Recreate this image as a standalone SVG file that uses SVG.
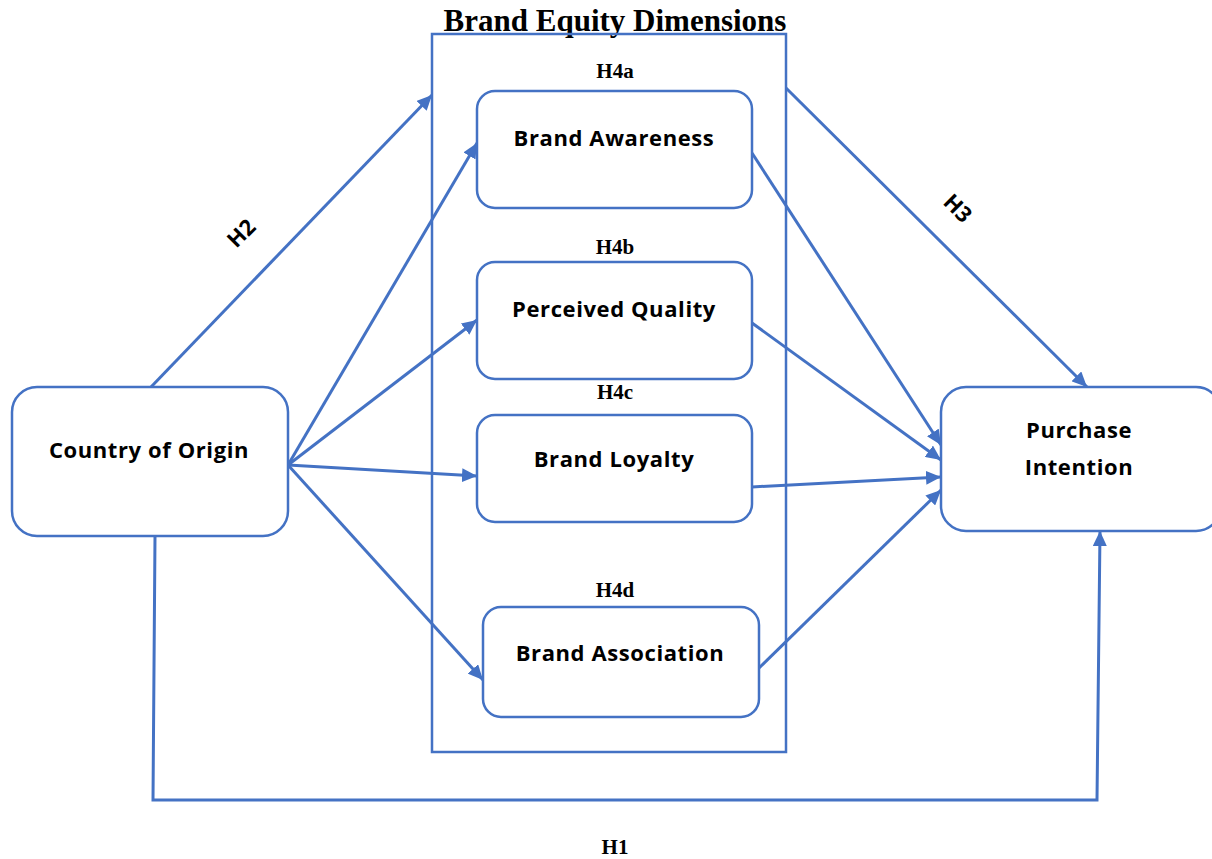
<svg xmlns="http://www.w3.org/2000/svg" width="1212" height="859" viewBox="0 0 1212 859">
<style>
.box{fill:#fff;stroke:#4472C4;stroke-width:2.5}
.frame{fill:none;stroke:#4472C4;stroke-width:2.5}
.lbl{font-family:"Open Sans",Lato,sans-serif;font-weight:bold;font-size:22px;letter-spacing:0.6px;fill:#000;text-anchor:middle}
.h{font-family:"Liberation Serif",serif;font-weight:bold;font-size:21px;fill:#000;text-anchor:middle}
.hs{font-family:"Open Sans",Lato,sans-serif;font-weight:bold;font-size:22px;fill:#000;text-anchor:middle}
.title{font-family:"Liberation Serif",serif;font-weight:bold;font-size:31px;fill:#000;text-anchor:middle}
.c{fill:none;stroke:#4472C4;stroke-width:3}
</style>
<defs>
<marker id="ah" markerUnits="userSpaceOnUse" markerWidth="16" markerHeight="14" refX="15" refY="7" orient="auto">
<path d="M0,0 L15,7 L0,14 z" fill="#4472C4"/>
</marker>
</defs>
<text class="title" x="615" y="31">Brand Equity Dimensions</text>
<rect id="frame" class="frame" x="432" y="34" width="354" height="718"/>
<g id="connectors">
<path class="c" d="M151,387 L432,95" marker-end="url(#ah)"/>
<path class="c" d="M288,465 L477,143" marker-end="url(#ah)"/>
<path class="c" d="M288,465 L477,320" marker-end="url(#ah)"/>
<path class="c" d="M288,465 L477,476" marker-end="url(#ah)"/>
<path class="c" d="M288,465 L483,680" marker-end="url(#ah)"/>
<path class="c" d="M786,88 L1087,387" marker-end="url(#ah)"/>
<path class="c" d="M752,153 L941,445" marker-end="url(#ah)"/>
<path class="c" d="M752,323 L941,460" marker-end="url(#ah)"/>
<path class="c" d="M752,487 L941,477" marker-end="url(#ah)"/>
<path class="c" d="M759,668 L941,490" marker-end="url(#ah)"/>
<path class="c" d="M155,536 L153,800 L1097,800 L1100,531" marker-end="url(#ah)"/>
</g>
<g id="country-of-origin">
<rect class="box" x="12" y="387" width="276" height="149" rx="25"/>
<text class="lbl" x="149" y="458">Country of Origin</text>
</g>
<g id="brand-awareness">
<rect class="box" x="477" y="91" width="275" height="117" rx="18"/>
<text class="lbl" x="614" y="146">Brand Awareness</text>
</g>
<g id="perceived-quality">
<rect class="box" x="477" y="262" width="275" height="117" rx="18"/>
<text class="lbl" x="614" y="317">Perceived Quality</text>
</g>
<g id="brand-loyalty">
<rect class="box" x="477" y="415" width="275" height="107" rx="18"/>
<text class="lbl" x="614" y="467">Brand Loyalty</text>
</g>
<g id="brand-association">
<rect class="box" x="483" y="607" width="276" height="110" rx="18"/>
<text class="lbl" x="620" y="661">Brand Association</text>
</g>
<g id="purchase-intention">
<rect class="box" x="941" y="387" width="280" height="144" rx="25"/>
<text class="lbl" x="1079" y="438">Purchase</text>
<text class="lbl" x="1079" y="475">Intention</text>
</g>
<g id="labels">
<text class="h" x="615" y="78">H4a</text>
<text class="h" x="615" y="254">H4b</text>
<text class="h" x="615" y="399">H4c</text>
<text class="h" x="615" y="597">H4d</text>
<text class="h" x="615" y="854">H1</text>
<text class="hs" transform="translate(241,233) rotate(-45)" y="8">H2</text>
<text class="hs" transform="translate(958,208) rotate(45)" y="8">H3</text>
</g>
</svg>
